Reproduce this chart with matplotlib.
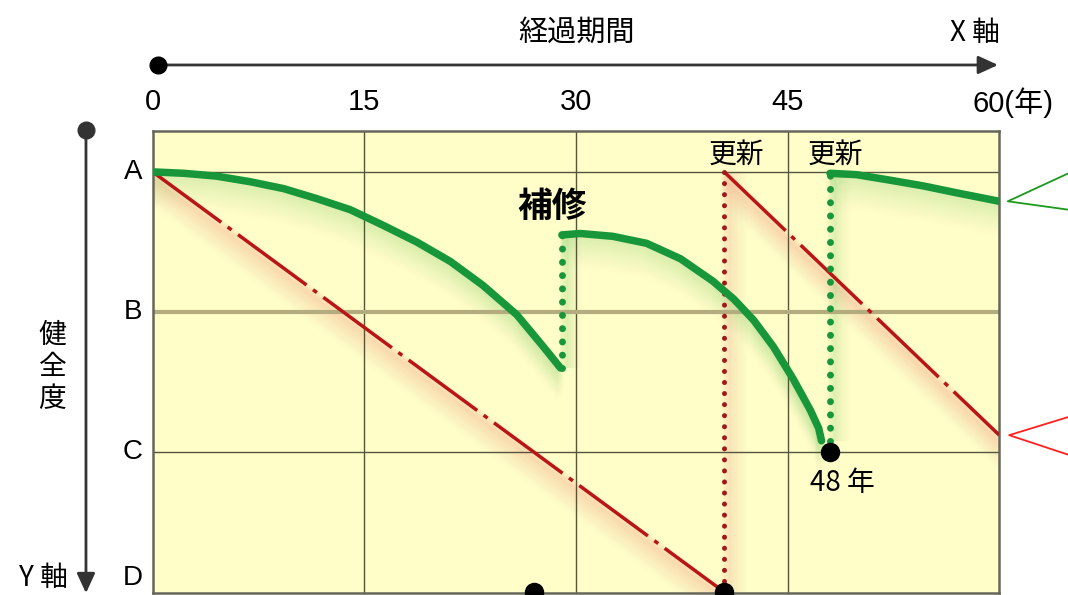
import numpy as np
import matplotlib.pyplot as plt
from matplotlib import font_manager

# fonts: narrow latin for the scale numbers, CJK for japanese labels
names = {f.name for f in font_manager.fontManager.ttflist}
num_font = 'Liberation Sans Narrow' if 'Liberation Sans Narrow' in names else 'Liberation Sans'
jp_font = ['Noto Sans CJK JP', 'DejaVu Sans']
plt.rcParams['font.family'] = jp_font

# scales
year_ticks = [0, 15, 30, 45]
grade_levels = [3, 2, 1, 0]
grade_names = ['A', 'B', 'C', 'D']

# health with repair (green)
green1_t = [0.0, 2.2, 4.5, 6.9, 9.3, 11.6, 14.0, 16.3, 18.7, 21.1, 23.4, 25.8, 27.7, 28.9]
green1_h = [3.0, 2.99, 2.97, 2.93, 2.88, 2.81, 2.73, 2.62, 2.50, 2.36, 2.19, 1.98, 1.75, 1.60]
green2_t = [29.0, 30.3, 32.6, 35.0, 37.4, 39.7, 41.2, 42.6, 44.0, 45.4, 46.6, 47.2, 47.4]
green2_h = [2.55, 2.56, 2.54, 2.49, 2.38, 2.22, 2.09, 1.94, 1.75, 1.52, 1.30, 1.17, 1.08]
green3_t = [48.0, 49.9, 52.3, 54.6, 57.0, 60.0]
green3_h = [2.99, 2.98, 2.94, 2.90, 2.85, 2.79]
repair_year = 29.0
repair_from, repair_to = 1.60, 2.55
green_renew_year = 48
green_renew_from, green_renew_to = 1.08, 2.99

# health without repair (red)
red1_t = [0.0, 40.5]
red1_h = [3.0, 0.0]
red2_t = [40.5, 60.0]
red2_h = [3.0, 1.12]
red_renew_year = 40.5

# black markers
dot_t = [27.0, 40.5, 48.0]
dot_h = [0.0, 0.0, 1.0]

green = '#17963a'
red = '#b91516'
bg = '#fffdc8'

fig = plt.figure(figsize=(10.68, 5.95), dpi=100)
ax = fig.add_axes([0.14298, 0.00336, 0.79270, 0.77647])
ax.set_facecolor(bg)
ax.set_xlim(0, 60)
ax.set_ylim(-0.007, 3.292)


def glow(t, h, color, dx=0.0, dy=0.0, n=14, lw=6, alpha=0.09):
    # stack of faint offset strokes, fading away from the line
    t = np.asarray(t, float)
    h = np.asarray(h, float)
    for i in range(1, n + 1):
        a = alpha * (1 - (i - 1) / n) ** 1.3
        ax.plot(t + dx * i, h + dy * i, color=color, lw=lw, alpha=a,
                solid_capstyle='butt', zorder=1)


# soft shading along the curves
glow(red1_t, red1_h, '#f4907c', dy=-0.016)
glow(red2_t, red2_h, '#f4907c', dy=-0.016)
glow([red_renew_year] * 2, [0, 3], '#f6a68c', dx=0.12, n=12, alpha=0.07)
for t, h in [(green1_t, green1_h), (green2_t, green2_h), (green3_t, green3_h)]:
    glow(t, h, '#86d070', dy=-0.016)
glow([repair_year] * 2, [repair_from, repair_to], '#86d070', dx=0.12, n=10, alpha=0.07)
glow([green_renew_year] * 2, [green_renew_from, green_renew_to], '#86d070', dx=0.12, n=10, alpha=0.07)

# grid
for x in year_ticks[1:]:
    ax.axvline(x, color='#55553f', lw=1.0, zorder=2)
ax.axhline(3, color='#55553f', lw=1.0, zorder=2)
ax.axhline(1, color='#55553f', lw=1.0, zorder=2)
ax.axhline(2, color='#b3ac7e', lw=3.0, zorder=2)

# red: no repair, renew at end of life
for t, h in [(red1_t, red1_h), (red2_t, red2_h)]:
    ln, = ax.plot(t, h, color=red, lw=2.5, zorder=3)
    ln.set_dashes([24.5, 2.3, 1.4, 2.3])
ax.plot([red_renew_year] * 2, [0, 3], color='#a3161a', lw=3.6,
        ls=(0, (0.01, 2.2)), dash_capstyle='round', zorder=3)

# green: repaired, then renewed
for t, h in [(green1_t, green1_h), (green2_t, green2_h), (green3_t, green3_h)]:
    ax.plot(t, h, color=green, lw=5.4, solid_capstyle='round', solid_joinstyle='round', zorder=4)
ax.plot([repair_year] * 2, [repair_from, repair_to], color=green, lw=5.0,
        ls=(0, (0.01, 1.9)), dash_capstyle='round', zorder=4)
ax.plot([green_renew_year] * 2, [green_renew_from, green_renew_to], color=green, lw=5.0,
        ls=(0, (0.01, 1.9)), dash_capstyle='round', zorder=4)

ax.plot(dot_t, dot_h, 'o', color='black', ms=13, clip_on=False, zorder=6)

# labels inside the plot
ax.text(repair_year - 0.7, 2.75, '補修', fontsize=25, fontweight='bold',
        ha='center', va='center', zorder=7)
ax.text(red_renew_year + 0.9, 3.12, '更新', fontsize=20, ha='center', va='center', zorder=7)
ax.text(green_renew_year + 0.4, 3.12, '更新', fontsize=20, ha='center', va='center', zorder=7)
ax.text(green_renew_year + 0.85, 0.78, '48 年', fontsize=20, ha='center', va='center', zorder=7)

# pointers leaving the right edge
ax.plot([64.9, 60.6, 64.9], [2.99, 2.79, 2.73], color='#1c9a1c', lw=1.3, clip_on=False)
ax.plot([64.9, 60.7, 64.9], [1.25, 1.12, 0.98], color='#ff2020', lw=1.3, clip_on=False)

# frame and scale labels
for s in ax.spines.values():
    s.set_color('#66665a')
    s.set_linewidth(1.8)
ax.xaxis.tick_top()
ax.set_xticks(year_ticks)
ax.set_xticklabels([str(v) for v in year_ticks], fontsize=21, family=num_font)
ax.tick_params(axis='x', length=0, pad=11)
ax.set_yticks([])
ax.text(58.1, 3.292 + 0.2, '60(年)', fontsize=21, family=[num_font, 'Noto Sans CJK JP'],
        ha='left', va='center')
tr = ax.get_yaxis_transform()
for lvl, name in zip(grade_levels, grade_names):
    y = lvl if lvl > 0 else 0.1
    ax.text(-0.012, y, name, transform=tr, fontsize=20, family=num_font,
            ha='right', va='center')

# axis arrows and titles
ax.annotate('', xy=(0.9345, 0.8908), xytext=(0.148, 0.8908),
            xycoords='figure fraction', textcoords='figure fraction',
            arrowprops=dict(arrowstyle='-|>,head_length=1.2,head_width=0.55',
                            color='#333333', lw=2, shrinkA=0, shrinkB=0))
ax.annotate('', xy=(0.0805, 0.003), xytext=(0.0805, 0.7815),
            xycoords='figure fraction', textcoords='figure fraction',
            arrowprops=dict(arrowstyle='-|>,head_length=1.2,head_width=0.55',
                            color='#333333', lw=2, shrinkA=0, shrinkB=0))
fig.add_artist(plt.Line2D([0.148], [0.8908], marker='o', ms=12, color='black',
                          transform=fig.transFigure))
fig.add_artist(plt.Line2D([0.0805], [0.7815], marker='o', ms=12, color='#333333',
                          transform=fig.transFigure))

fig.text(0.54, 0.945, '経過期間', fontsize=21, ha='center', va='center')
fig.text(0.913, 0.945, 'X 軸', fontsize=20, ha='center', va='center')
fig.text(0.041, 0.029, 'Y 軸', fontsize=20, ha='center', va='center')
fig.text(0.049, 0.383, '健\n全\n度', fontsize=20, ha='center', va='center', linespacing=1.1)

fig.savefig('out.png', dpi=100, facecolor='white')
